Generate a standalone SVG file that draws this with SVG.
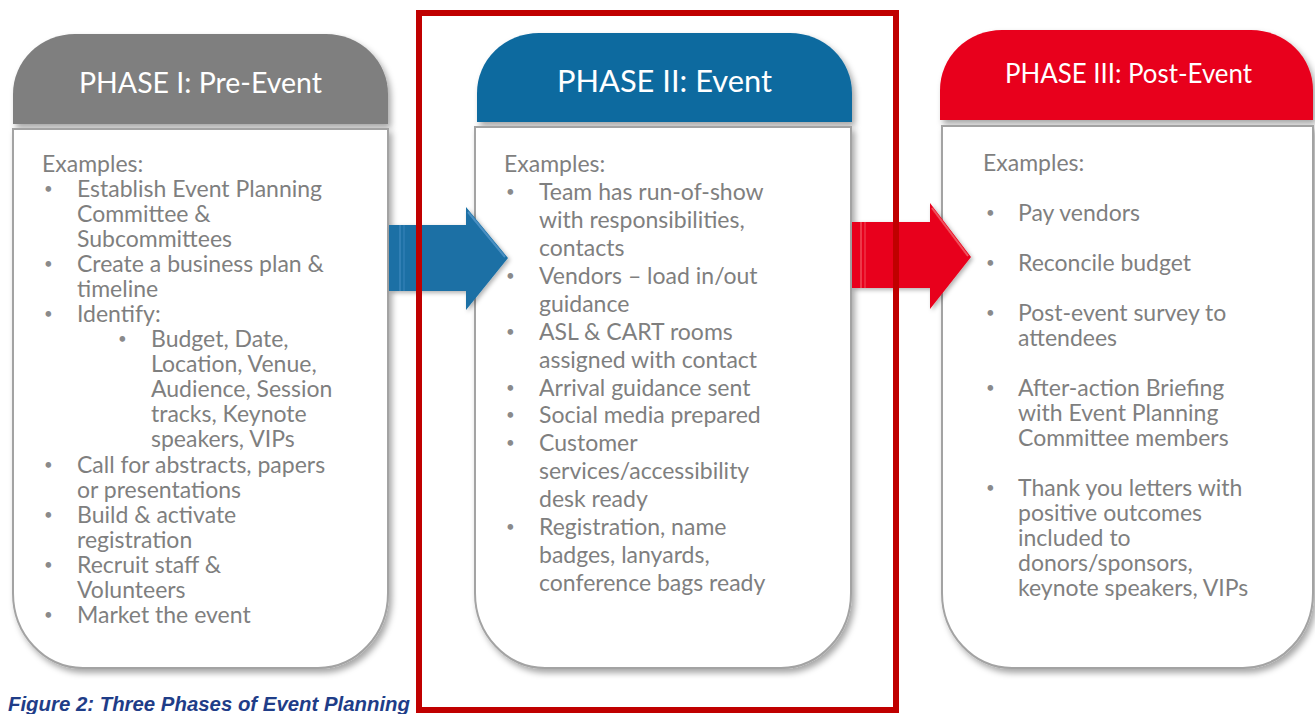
<svg xmlns="http://www.w3.org/2000/svg" width="1315" height="714" viewBox="0 0 1315 714">
  <defs>
    <filter id="shadow" x="-10%" y="-10%" width="125%" height="125%">
      <feDropShadow dx="3" dy="4" stdDeviation="3" flood-color="#000" flood-opacity="0.35"/>
    </filter>
    <filter id="arrowShadow" x="-10%" y="-20%" width="130%" height="140%">
      <feDropShadow dx="2" dy="2" stdDeviation="2" flood-color="#000" flood-opacity="0.3"/>
    </filter>
    <style>
      .body { fill: #ffffff; stroke: #a3a3a3; stroke-width: 2; filter: url(#shadow); }
      .head { filter: url(#shadow); }
      .title { font-family: Lato, "Liberation Sans", sans-serif; font-size: 28.5px; fill: #ffffff; text-anchor: middle; }
      .txt { font-family: Lato, "Liberation Sans", sans-serif; font-size: 23px; fill: #7f7f7f; }
      .b { font-size: 15px; fill: #8a8a8a; }
      .caption { font-family: "Liberation Sans", Arial, sans-serif; font-size: 20px; font-weight: bold; font-style: italic; fill: #1f3d88; }
    </style>
  </defs>

  <rect width="1315" height="714" fill="#ffffff"/>

  <!-- Phase I -->
  <g id="phase1">
    <path class="head" fill="#7f7f7f" d="M13,124 V94 A62,60 0 0 1 75,34 H326 A62,60 0 0 1 388,94 V124 Z"/>
    <text class="title" x="200.5" y="93" textLength="243" lengthAdjust="spacingAndGlyphs">PHASE I: Pre-Event</text>
    <path class="body" d="M13,129 H388 V593 A70,75 0 0 1 318,668 H83 A70,75 0 0 1 13,593 Z"/>
    <g class="txt">
      <text x="42" y="172">Examples:</text>
      <text class="b" x="44" y="194">•</text><text x="77" y="197">Establish Event Planning</text>
      <text x="77" y="222">Committee &amp;</text>
      <text x="77" y="247">Subcommittees</text>
      <text class="b" x="44" y="269">•</text><text x="77" y="272">Create a business plan &amp;</text>
      <text x="77" y="297">timeline</text>
      <text class="b" x="44" y="319">•</text><text x="77" y="322">Identify:</text>
      <text class="b" x="118" y="344">•</text><text x="151" y="347">Budget, Date,</text>
      <text x="151" y="372">Location, Venue,</text>
      <text x="151" y="397">Audience, Session</text>
      <text x="151" y="422">tracks, Keynote</text>
      <text x="151" y="447">speakers, VIPs</text>
      <text class="b" x="44" y="470">•</text><text x="77" y="473">Call for abstracts, papers</text>
      <text x="77" y="498">or presentations</text>
      <text class="b" x="44" y="520">•</text><text x="77" y="523">Build &amp; activate</text>
      <text x="77" y="548">registration</text>
      <text class="b" x="44" y="570">•</text><text x="77" y="573">Recruit staff &amp;</text>
      <text x="77" y="598">Volunteers</text>
      <text class="b" x="44" y="620">•</text><text x="77" y="623">Market the event</text>
    </g>
  </g>

  <!-- Phase II -->
  <g id="phase2">
    <path class="head" fill="#0f6a9f" d="M477,122 V93 A62,60 0 0 1 539,33 H790 A62,60 0 0 1 852,93 V122 Z"/>
    <text class="title" x="664.5" y="92" style="font-size:30px" textLength="215" lengthAdjust="spacingAndGlyphs">PHASE II: Event</text>
    <path class="body" d="M475,127 H851 V593 A70,75 0 0 1 781,668 H545 A70,75 0 0 1 475,593 Z"/>
    <g class="txt">
      <text x="504" y="172">Examples:</text>
      <text class="b" x="506" y="197">•</text><text x="539" y="200">Team has run-of-show</text>
      <text x="539" y="228">with responsibilities,</text>
      <text x="539" y="256">contacts</text>
      <text class="b" x="506" y="281">•</text><text x="539" y="284">Vendors – load in/out</text>
      <text x="539" y="312">guidance</text>
      <text class="b" x="506" y="337">•</text><text x="539" y="340">ASL &amp; CART rooms</text>
      <text x="539" y="368">assigned with contact</text>
      <text class="b" x="506" y="393">•</text><text x="539" y="396">Arrival guidance sent</text>
      <text class="b" x="506" y="420">•</text><text x="539" y="423">Social media prepared</text>
      <text class="b" x="506" y="448">•</text><text x="539" y="451">Customer</text>
      <text x="539" y="479">services/accessibility</text>
      <text x="539" y="507">desk ready</text>
      <text class="b" x="506" y="532">•</text><text x="539" y="535">Registration, name</text>
      <text x="539" y="563">badges, lanyards,</text>
      <text x="539" y="591">conference bags ready</text>
    </g>
  </g>

  <!-- Phase III -->
  <g id="phase3">
    <path class="head" fill="#e8001c" d="M940,120 V90 A62,60 0 0 1 1002,30 H1251 A62,60 0 0 1 1313,90 V120 Z"/>
    <text class="title" x="1128.5" y="83" style="font-size:26px" textLength="247" lengthAdjust="spacingAndGlyphs">PHASE III: Post-Event</text>
    <path class="body" d="M942,126 H1313 V593 A70,75 0 0 1 1243,668 H1012 A70,75 0 0 1 942,593 Z"/>
    <g class="txt">
      <text x="983" y="171">Examples:</text>
      <text class="b" x="986" y="218">•</text><text x="1018" y="221">Pay vendors</text>
      <text class="b" x="986" y="268">•</text><text x="1018" y="271">Reconcile budget</text>
      <text class="b" x="986" y="318">•</text><text x="1018" y="321">Post-event survey to</text>
      <text x="1018" y="346">attendees</text>
      <text class="b" x="986" y="393">•</text><text x="1018" y="396">After-action Briefing</text>
      <text x="1018" y="421">with Event Planning</text>
      <text x="1018" y="446">Committee members</text>
      <text class="b" x="986" y="493">•</text><text x="1018" y="496">Thank you letters with</text>
      <text x="1018" y="521">positive outcomes</text>
      <text x="1018" y="546">included to</text>
      <text x="1018" y="571">donors/sponsors,</text>
      <text x="1018" y="596">keynote speakers, VIPs</text>
    </g>
  </g>

  <!-- Flow arrows between phases -->
  <g id="connectors">
    <g filter="url(#arrowShadow)">
      <polygon fill="#1a6fa5" points="389,225 466,225 466,207 508,258 466,310 466,291 389,291"/>
      <polyline fill="none" stroke="#4a8fc2" stroke-width="2" points="468,212 505,257"/>
      <line x1="400" y1="225" x2="400" y2="291" stroke="#3d86bb" stroke-width="1.5"/>
      <line x1="404" y1="225" x2="404" y2="291" stroke="#3d86bb" stroke-width="1"/>
    </g>
    <g filter="url(#arrowShadow)">
      <polygon fill="#e8061c" points="852,222 930,222 930,203 971,257 930,309 930,288 852,288"/>
      <polyline fill="none" stroke="#f0505e" stroke-width="2" points="932,208 968,256"/>
      <line x1="861" y1="222" x2="861" y2="288" stroke="#f04a5a" stroke-width="1.5"/>
      <line x1="865" y1="222" x2="865" y2="288" stroke="#f04a5a" stroke-width="1"/>
    </g>
  </g>

  <!-- Highlight frame around the event phase -->
  <rect x="419" y="13" width="477" height="697" fill="none" stroke="#c00000" stroke-width="6"/>

  <text class="caption" x="8" y="711" textLength="402" lengthAdjust="spacingAndGlyphs">Figure 2: Three Phases of Event Planning</text>
</svg>
